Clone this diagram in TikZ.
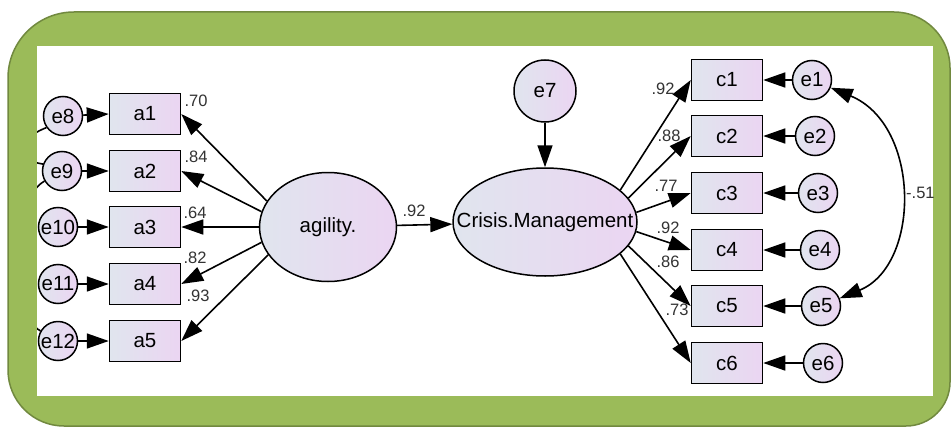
\documentclass[tikz,border=0pt]{standalone}
\usepackage{fontspec}
\setmainfont{Liberation Sans}
\usetikzlibrary{arrows.meta,shapes.geometric}

\definecolor{frameGreen}{HTML}{9BBB59}
\definecolor{frameEdge}{HTML}{71893F}
\definecolor{fillL}{HTML}{E0E5EE}
\definecolor{fillR}{HTML}{EBD5F2}
\definecolor{labelGray}{HTML}{333333}

\tikzset{
  shade/.style={left color=fillL, right color=fillR, draw=black, line width=1.5pt},
  nodefont/.style={font=\fontsize{20.5}{21}\selectfont},
  obsbox/.style={shade, rectangle, minimum width=71pt, minimum height=41pt, inner sep=0pt, nodefont},
  errc/.style={shade, circle, minimum size=39pt, inner sep=0pt, nodefont},
  latent/.style={shade, ellipse, inner sep=0pt, nodefont},
  path/.style={line width=1.6pt, -{Triangle[length=22pt,width=15pt]}},
  covar/.style={line width=1.6pt, {Triangle[length=22pt,width=15pt]}-{Triangle[length=22pt,width=15pt]}},
  stub/.style={line width=1.6pt},
  coef/.style={font=\fontsize{16.5}{17}\selectfont, text=labelGray, inner sep=0pt}
}

\begin{document}
\begin{tikzpicture}[x=1pt,y=-1pt]
  \useasboundingbox (0,0) rectangle (952,428);

  % frame: green rounded panel with a white drawing area
  \fill[white] (0,0) rectangle (952,428);
  \filldraw[fill=frameGreen, draw=frameEdge, line width=1.5pt]
    (8,200) [rounded corners=66pt] |- (500,12)
            [rounded corners=56pt] -| (950,200)
            [rounded corners=44pt] |- (500,426)
            [rounded corners=56pt] -| cycle;
  \fill[white] (37,46) rectangle (933,396);

  \begin{scope}
    \clip (37,46) rectangle (933,396);

    % observed indicators of agility
    \node[obsbox] (a1) at (145,114) {a1};
    \node[obsbox] (a2) at (145,171) {a2};
    \node[obsbox] (a3) at (145,227) {a3};
    \node[obsbox] (a4) at (145,284) {a4};
    \node[obsbox] (a5) at (145,341) {a5};

    % their error terms
    \node[errc] (e8)  at (63,116) {e8};
    \node[errc] (e9)  at (62,171) {e9};
    \node[errc] (e10) at (58,227) {e10};
    \node[errc] (e11) at (58,284) {e11};
    \node[errc] (e12) at (58,341) {e12};

    % latent variables (labels in zero-width boxes so the ellipse keeps its size)
    \node[latent, minimum width=137pt, minimum height=109pt] (ag) at (328,227)
      {\makebox[0pt]{agility.}};
    \node[latent, minimum width=184pt, minimum height=108pt] (cm) at (545,222)
      {\makebox[0pt]{Crisis.Management}};
    \node[errc, minimum size=62pt] (e7) at (545,91) {e7};

    % observed indicators of crisis management
    \node[obsbox] (c1) at (727,80)  {c1};
    \node[obsbox] (c2) at (727,136) {c2};
    \node[obsbox] (c3) at (727,193) {c3};
    \node[obsbox] (c4) at (727,250) {c4};
    \node[obsbox] (c5) at (727,306) {c5};
    \node[obsbox] (c6) at (727,363) {c6};

    \node[errc] (e1) at (812,80)  {e1};
    \node[errc] (e2) at (815,136) {e2};
    \node[errc] (e3) at (818,193) {e3};
    \node[errc] (e4) at (820,250) {e4};
    \node[errc] (e5) at (821,306) {e5};
    \node[errc] (e6) at (823,363) {e6};

    % loadings of agility, fanning out of its left side
    \draw[path] (ag.157) -- (a1.east);
    \draw[path] (ag.167) -- (a2.east);
    \draw[path] (ag.180) -- (a3.east);
    \draw[path] (ag.193) -- (a4.east);
    \draw[path] (ag.205) -- (a5.east);
    % error terms into a1..a5
    \draw[path] (e8) -- (a1.west);
    \draw[path] (e9) -- (a2.west);
    \draw[path] (e10) -- (a3.west);
    \draw[path] (e11) -- (a4.west);
    \draw[path] (e12) -- (a5.west);

    % structural path and disturbance
    \draw[path] (ag) -- (cm);
    \draw[path] (e7) -- (cm);

    % loadings of crisis management, fanning out of its right side
    \draw[path] (cm.23)  -- (c1.west);
    \draw[path] (cm.16)  -- (c2.west);
    \draw[path] (cm.6)   -- (c3.west);
    \draw[path] (cm.-6)  -- (c4.west);
    \draw[path] (cm.-16) -- (c5.west);
    \draw[path] (cm.-23) -- (c6.west);
    \foreach \i in {1,...,6} \draw[path] (e\i) -- (c\i.east);

    % error covariance
    \draw[covar] (e1) .. controls (921,125) and (921,265) .. (e5);

    % covariances running off the left edge
    \draw[stub] (e8.215) .. controls (15,140) and (15,160) .. (e9.160);
    \draw[stub] (e9.210) .. controls (10,200) and (10,315) .. (e12.150);

    % coefficients
    \node[coef] (l1) at (196,101) {.70};
    \node[coef] (l2) at (196,157) {.84};
    \node[coef] (l3) at (195,213) {.64};
    \node[coef] (l4) at (195,258) {.82};
    \node[coef] (l5) at (198,296) {.93};
    \node[coef] (l6) at (414,211) {.92};
    \node[coef] (l7) at (663,89)  {.92};
    \node[coef] (l8) at (669,136) {.88};
    \node[coef] (l9) at (666,186) {.77};
    \node[coef] (l10) at (668,228) {.92};
    \node[coef] (l11) at (668,262) {.86};
    \node[coef] (l12) at (677,310) {.73};
    \node[coef, anchor=west] (l13) at (906,193) {-.51};
  \end{scope}
\end{tikzpicture}
\end{document}
